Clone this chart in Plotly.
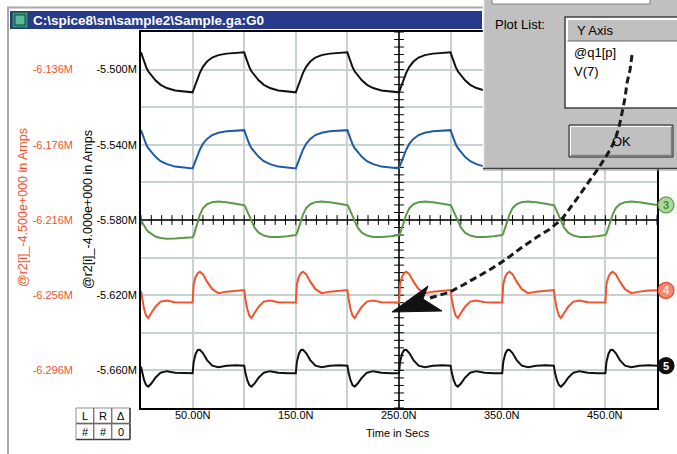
import plotly.graph_objects as go

W, H = 677, 454
FONT = "Liberation Sans, Arial, sans-serif"

# ---------------- data (in mA) ----------------
TIME_NS = [
    0, 1, 3, 5, 7, 10, 14, 19, 25, 33, 42,
    50, 51, 53, 55, 57, 60, 64, 69, 75, 83, 92,
    100, 101, 103, 105, 107, 110, 114, 119, 125, 133, 142,
    150, 151, 153, 155, 157, 160, 164, 169, 175, 183, 192,
    200, 201, 203, 205, 207, 210, 214, 219, 225, 233, 242,
    250, 251, 253, 255, 257, 260, 264, 269, 275, 283, 292,
    300, 301, 303, 305, 307, 310, 314, 319, 325, 333, 342,
    350, 351, 353, 355, 357, 360, 364, 369, 375, 383, 392,
    400, 401, 403, 405, 407, 410, 414, 419, 425, 433, 442,
    450, 451, 453, 455, 457, 460, 464, 469, 475, 483, 492,
    500]

TRACE_1 = [
    -5.4908, -5.4926, -5.4960, -5.4987, -5.5009, -5.5032, -5.5057, -5.5081, -5.5098, -5.5111, -5.5118,
    -5.5121, -5.5106, -5.5074, -5.5045, -5.5017, -5.4985, -5.4957, -5.4936, -5.4923, -5.4915, -5.4911,
    -5.4908, -5.4926, -5.4960, -5.4987, -5.5009, -5.5032, -5.5057, -5.5081, -5.5098, -5.5111, -5.5118,
    -5.5121, -5.5106, -5.5074, -5.5045, -5.5017, -5.4985, -5.4957, -5.4936, -5.4923, -5.4915, -5.4911,
    -5.4908, -5.4926, -5.4960, -5.4987, -5.5009, -5.5032, -5.5057, -5.5081, -5.5098, -5.5111, -5.5118,
    -5.5121, -5.5106, -5.5074, -5.5045, -5.5017, -5.4985, -5.4957, -5.4936, -5.4923, -5.4915, -5.4911,
    -5.4908, -5.4926, -5.4960, -5.4987, -5.5009, -5.5032, -5.5057, -5.5081, -5.5098, -5.5111, -5.5118,
    -5.5121, -5.5106, -5.5074, -5.5045, -5.5017, -5.4985, -5.4957, -5.4936, -5.4923, -5.4915, -5.4911,
    -5.4908, -5.4926, -5.4960, -5.4987, -5.5009, -5.5032, -5.5057, -5.5081, -5.5098, -5.5111, -5.5118,
    -5.5121, -5.5106, -5.5074, -5.5045, -5.5017, -5.4985, -5.4957, -5.4936, -5.4923, -5.4915, -5.4911,
    -5.4909]

TRACE_2 = [
    -5.5322, -5.5338, -5.5371, -5.5397, -5.5418, -5.5440, -5.5464, -5.5487, -5.5503, -5.5516, -5.5522,
    -5.5526, -5.5511, -5.5481, -5.5452, -5.5426, -5.5395, -5.5369, -5.5348, -5.5336, -5.5328, -5.5324,
    -5.5322, -5.5338, -5.5371, -5.5397, -5.5418, -5.5440, -5.5464, -5.5487, -5.5503, -5.5516, -5.5522,
    -5.5526, -5.5511, -5.5481, -5.5452, -5.5426, -5.5395, -5.5369, -5.5348, -5.5336, -5.5328, -5.5324,
    -5.5322, -5.5338, -5.5371, -5.5397, -5.5418, -5.5440, -5.5464, -5.5487, -5.5503, -5.5516, -5.5522,
    -5.5526, -5.5511, -5.5481, -5.5452, -5.5426, -5.5395, -5.5369, -5.5348, -5.5336, -5.5328, -5.5324,
    -5.5322, -5.5338, -5.5371, -5.5397, -5.5418, -5.5440, -5.5464, -5.5487, -5.5503, -5.5516, -5.5522,
    -5.5526, -5.5511, -5.5481, -5.5452, -5.5426, -5.5395, -5.5369, -5.5348, -5.5336, -5.5328, -5.5324,
    -5.5322, -5.5338, -5.5371, -5.5397, -5.5418, -5.5440, -5.5464, -5.5487, -5.5503, -5.5516, -5.5522,
    -5.5526, -5.5511, -5.5481, -5.5452, -5.5426, -5.5395, -5.5369, -5.5348, -5.5336, -5.5328, -5.5324,
    -5.5322]

TRACE_3 = [
    -5.5801, -5.5811, -5.5833, -5.5849, -5.5862, -5.5875, -5.5888, -5.5896, -5.5900, -5.5899, -5.5894,
    -5.5892, -5.5884, -5.5850, -5.5810, -5.5773, -5.5738, -5.5716, -5.5705, -5.5702, -5.5705, -5.5713,
    -5.5721, -5.5729, -5.5753, -5.5782, -5.5809, -5.5841, -5.5867, -5.5883, -5.5890, -5.5891, -5.5887,
    -5.5880, -5.5872, -5.5843, -5.5806, -5.5771, -5.5737, -5.5716, -5.5705, -5.5702, -5.5705, -5.5713,
    -5.5721, -5.5729, -5.5753, -5.5782, -5.5809, -5.5841, -5.5867, -5.5883, -5.5890, -5.5891, -5.5887,
    -5.5880, -5.5872, -5.5843, -5.5806, -5.5771, -5.5737, -5.5716, -5.5705, -5.5702, -5.5705, -5.5713,
    -5.5721, -5.5729, -5.5753, -5.5782, -5.5809, -5.5841, -5.5867, -5.5883, -5.5890, -5.5891, -5.5887,
    -5.5880, -5.5872, -5.5843, -5.5806, -5.5771, -5.5737, -5.5716, -5.5705, -5.5702, -5.5705, -5.5713,
    -5.5721, -5.5729, -5.5753, -5.5782, -5.5809, -5.5841, -5.5867, -5.5883, -5.5890, -5.5891, -5.5887,
    -5.5880, -5.5872, -5.5843, -5.5806, -5.5771, -5.5737, -5.5716, -5.5705, -5.5702, -5.5705, -5.5713,
    -5.5720]

TRACE_4 = [
    -5.6178, -5.6216, -5.6274, -5.6309, -5.6322, -5.6295, -5.6261, -5.6234, -5.6228, -5.6237, -5.6239,
    -5.6239, -5.6141, -5.6101, -5.6083, -5.6075, -5.6088, -5.6128, -5.6168, -5.6189, -5.6181, -5.6175,
    -5.6173, -5.6216, -5.6274, -5.6309, -5.6322, -5.6295, -5.6261, -5.6234, -5.6228, -5.6237, -5.6239,
    -5.6239, -5.6141, -5.6101, -5.6083, -5.6075, -5.6088, -5.6128, -5.6168, -5.6189, -5.6181, -5.6175,
    -5.6173, -5.6216, -5.6274, -5.6309, -5.6322, -5.6295, -5.6261, -5.6234, -5.6228, -5.6237, -5.6239,
    -5.6239, -5.6141, -5.6101, -5.6083, -5.6075, -5.6088, -5.6128, -5.6168, -5.6189, -5.6181, -5.6175,
    -5.6173, -5.6216, -5.6274, -5.6309, -5.6322, -5.6295, -5.6261, -5.6234, -5.6228, -5.6237, -5.6239,
    -5.6239, -5.6141, -5.6101, -5.6083, -5.6075, -5.6088, -5.6128, -5.6168, -5.6189, -5.6181, -5.6175,
    -5.6173, -5.6216, -5.6274, -5.6309, -5.6322, -5.6295, -5.6261, -5.6234, -5.6228, -5.6237, -5.6239,
    -5.6239, -5.6141, -5.6101, -5.6083, -5.6075, -5.6088, -5.6128, -5.6168, -5.6189, -5.6181, -5.6175,
    -5.6174]

TRACE_5 = [
    -5.6581, -5.6609, -5.6652, -5.6678, -5.6686, -5.6670, -5.6639, -5.6612, -5.6604, -5.6612, -5.6615,
    -5.6615, -5.6556, -5.6511, -5.6491, -5.6490, -5.6508, -5.6545, -5.6575, -5.6583, -5.6575, -5.6572,
    -5.6575, -5.6609, -5.6652, -5.6678, -5.6686, -5.6670, -5.6639, -5.6612, -5.6604, -5.6612, -5.6615,
    -5.6615, -5.6556, -5.6511, -5.6491, -5.6490, -5.6508, -5.6545, -5.6575, -5.6583, -5.6575, -5.6572,
    -5.6575, -5.6609, -5.6652, -5.6678, -5.6686, -5.6670, -5.6639, -5.6612, -5.6604, -5.6612, -5.6615,
    -5.6615, -5.6556, -5.6511, -5.6491, -5.6490, -5.6508, -5.6545, -5.6575, -5.6583, -5.6575, -5.6572,
    -5.6575, -5.6609, -5.6652, -5.6678, -5.6686, -5.6670, -5.6639, -5.6612, -5.6604, -5.6612, -5.6615,
    -5.6615, -5.6556, -5.6511, -5.6491, -5.6490, -5.6508, -5.6545, -5.6575, -5.6583, -5.6575, -5.6572,
    -5.6575, -5.6609, -5.6652, -5.6678, -5.6686, -5.6670, -5.6639, -5.6612, -5.6604, -5.6612, -5.6615,
    -5.6615, -5.6556, -5.6511, -5.6491, -5.6490, -5.6508, -5.6545, -5.6575, -5.6583, -5.6575, -5.6572,
    -5.6575]

X_RANGE = [0, 500]
Y_RANGE = [-5.68, -5.48]
X_GRID = [0, 50, 100, 150, 200, 250, 300, 350, 400, 450, 500]
X_LABEL_AT = [50, 150, 250, 350, 450]
X_LABEL_TEXT = ["50.00N", "150.0N", "250.0N", "350.0N", "450.0N"]
Y_GRID = [-5.68, -5.66, -5.64, -5.62, -5.60, -5.58, -5.56, -5.54, -5.52, -5.50, -5.48]
Y_TICK_TEXT = ["", "-5.660M", "", "-5.620M", "", "-5.580M", "", "-5.540M", "", "-5.500M", ""]
Y2_TICK_TEXT = ["", "-6.296M", "", "-6.256M", "", "-6.216M", "", "-6.176M", "", "-6.136M", ""]
CURSOR_X = 250
CURSOR_Y = -5.58
CURSOR_X_TICKS = list(range(0, 501, 10))
CURSOR_Y_TICKS = [round(-5.68 + 0.004 * k, 4) for k in range(51)]
TAG_LABELS = ["3", "4", "5"]

C_BLACK = "#111111"
C_BLUE = "#1f5aa8"
C_GREEN = "#5b9a48"
C_RED = "#f2522c"
GRID = "#c9d2d2"

fig = go.Figure()

# crosshair cursor lines and ticks
fig.add_trace(go.Scatter(x=[CURSOR_X, CURSOR_X], y=Y_RANGE, mode="lines",
                         line=dict(color="black", width=1.5), hoverinfo="skip"))
fig.add_trace(go.Scatter(x=X_RANGE, y=[CURSOR_Y, CURSOR_Y], mode="lines",
                         line=dict(color="black", width=1.5), hoverinfo="skip"))
fig.add_trace(go.Scatter(x=[CURSOR_X] * len(CURSOR_Y_TICKS), y=CURSOR_Y_TICKS, mode="markers",
                         marker=dict(symbol="line-ew-open", size=7, color="black", line=dict(width=1)),
                         hoverinfo="skip"))
fig.add_trace(go.Scatter(x=CURSOR_X_TICKS, y=[CURSOR_Y] * len(CURSOR_X_TICKS), mode="markers",
                         marker=dict(symbol="line-ns-open", size=7, color="black", line=dict(width=1)),
                         hoverinfo="skip"))

for ys, col in [(TRACE_1, C_BLACK), (TRACE_2, C_BLUE), (TRACE_3, C_GREEN),
                (TRACE_4, C_RED), (TRACE_5, C_BLACK)]:
    fig.add_trace(go.Scatter(x=TIME_NS, y=ys, mode="lines",
                             line=dict(color=col, width=2)))

# invisible trace for the red (left outer) axis
fig.add_trace(go.Scatter(x=[None], y=[None], yaxis="y2", showlegend=False))

shapes = []
ann = []


def X(x):
    return x / W


def Y(y):
    return 1 - y / H


def rect(x0, y0, x1, y1, fill, line=None, lw=0):
    shapes.append(dict(type="rect", xref="paper", yref="paper",
                       x0=X(x0), x1=X(x1), y0=Y(y1), y1=Y(y0),
                       fillcolor=fill, line=dict(color=line or fill, width=lw), layer="above"))


def seg(x0, y0, x1, y1, color, lw=1):
    shapes.append(dict(type="line", xref="paper", yref="paper",
                       x0=X(x0), x1=X(x1), y0=Y(y0), y1=Y(y1),
                       line=dict(color=color, width=lw), layer="above"))


def path(pts, close=False):
    s = "M " + " L ".join(f"{X(x):.5f},{Y(y):.5f}" for x, y in pts)
    return s + (" Z" if close else "")


def text(s, x, y, size=11, color="black", xanchor="left", angle=0, bold=False):
    ann.append(dict(text=(f"<b>{s}</b>" if bold else s), x=X(x), y=Y(y), xref="paper", yref="paper",
                    xanchor=xanchor, yanchor="middle", showarrow=False, textangle=angle,
                    font=dict(family=FONT, size=size, color=color)))


# x tick labels (only every other gridline is labelled), placed on the data axis
for tv, tt in zip(X_LABEL_AT, X_LABEL_TEXT):
    ann.append(dict(text=tt, x=tv, y=Y(415), xref="x", yref="paper", showarrow=False,
                    xanchor="center", yanchor="middle", font=dict(family=FONT, size=11, color="black")))

# trace number tags at the right end of traces 3, 4, 5 (placed at each trace's last value)
tag_style = [(TRACE_3[-1], "#a9d89c", "#5b9a48", "#4a8a3a"),
             (TRACE_4[-1], "#f08a74", "#e04a2a", "#fde6de"),
             (TRACE_5[-1], "#111111", "#111111", "white")]
for lab, (yv, fill, edge, tcol) in zip(TAG_LABELS, tag_style):
    shapes.append(dict(type="circle", xref="paper", yref="y", xsizemode="pixel", ysizemode="pixel",
                       xanchor=X(666), yanchor=yv, x0=-8, x1=8, y0=-8, y1=8,
                       fillcolor=fill, line=dict(color=edge, width=1.2), layer="above"))
    ann.append(dict(text=f"<b>{lab}</b>", x=X(666), y=yv, xref="paper", yref="y", showarrow=False,
                    xanchor="center", yanchor="middle",
                    font=dict(family=FONT, size=11, color=tcol)))

# window frame + title bar
seg(7, 7.5, 483, 7.5, "#a8a8a8", 2)
seg(8, 7, 8, 454, "#a8a8a8", 2)
rect(10, 11, 482, 29, "#283a8c")
rect(12, 12, 28, 28, "#2f8c80", "#1a4a44", 1)
rect(15, 15, 25, 25, "#5bb8a0", "#1a4a44", 1)

# bottom-left buttons
btns = [("L", 76, 408), ("R", 94, 408), ("Δ", 112, 408),
        ("#", 76, 424), ("#", 94, 424), ("0", 112, 424)]
for _, bx, by in btns:
    rect(bx, by, bx + 18, by + 15.5, "white", "#909090", 1)
    seg(bx + 18, by, bx + 18, by + 15.5, "#404040", 1.5)
    seg(bx, by + 15.5, bx + 18, by + 15.5, "#404040", 1.5)

# dialog
rect(483, 0, 677, 168, "#c0c0c0")
seg(483.5, 0, 483.5, 168, "#f4f4f4", 1.5)
seg(483, 168.5, 677, 168.5, "#404040", 1.5)
seg(483, 170, 677, 170, "#9a9a9a", 1)
rect(492, -2, 650, 4, "white", "#808080", 1)
rect(565, 17, 680, 108, "white", "#404040", 1.5)
rect(567.5, 19.5, 680, 41, "#c0c0c0")
seg(567.5, 19.5, 677, 19.5, "white", 1)
seg(567.5, 19.5, 567.5, 41, "white", 1)
seg(567.5, 41, 677, 41, "#606060", 1)
rect(569, 125, 673, 157, "#c0c0c0", "#202020", 1)
seg(570.5, 126.5, 671.5, 126.5, "white", 1)
seg(570.5, 126.5, 570.5, 155.5, "white", 1)
seg(571, 155.5, 672, 155.5, "#808080", 1.5)
seg(671.5, 126.5, 671.5, 155.5, "#808080", 1.5)

# dashed arrow
curve = [(632, 55), (630, 70), (627, 83), (625, 98), (622, 113), (619, 127), (615, 140),
         (610, 150), (605, 158), (598, 169), (590, 180), (576, 200), (562, 219), (550, 229),
         (537, 237), (521, 248), (505, 260), (491, 269), (477, 277), (463, 285), (450, 292),
         (440, 295), (430, 298)]
shapes.append(dict(type="path", xref="paper", yref="paper", path=path(curve),
                   line=dict(color="#1a1a1a", width=3, dash="7px,4px"), layer="above"))
shapes.append(dict(type="path", xref="paper", yref="paper",
                   path=path([(392, 312), (428, 286), (423, 299), (442, 311)], close=True),
                   fillcolor="#111111", line=dict(color="#111111", width=1), layer="above"))

text(r"C:\spice8\sn\sample2\Sample.ga:G0", 31, 20, size=13.5, color="white", bold=True)
text("@r2[i]_-4.500e+000 in Amps", 23, 208, size=12.5, color=C_RED, xanchor="center", angle=-90)
text("@r2[i]_-4.000e+000 in Amps", 88, 209, size=12.5, color="black", xanchor="center", angle=-90)
text("Time in Secs", 398, 433, xanchor="center")
for lab, bx, by in btns:
    text(lab, bx + 9, by + 8, size=11, xanchor="center")
text("Plot List:", 493, 25, size=13)
text("Y Axis", 575, 30.5, size=13)
text("@q1[p]", 572, 52, size=13)
text("V(7)", 572, 71, size=13)
text("OK", 621, 141.5, size=13, xanchor="center")

axis_common = dict(showline=True, linecolor="black", linewidth=2, mirror=True,
                   showgrid=True, gridcolor=GRID, gridwidth=1.5, zeroline=False, ticks="",
                   tickfont=dict(family=FONT, size=11, color="black"), tickmode="array")

fig.update_layout(
    width=W, height=H, margin=dict(l=0, r=0, t=0, b=0),
    paper_bgcolor="white", plot_bgcolor="white", showlegend=False,
    xaxis=dict(domain=[141 / W, 657 / W], range=X_RANGE, tickvals=X_GRID, showticklabels=False,
               **axis_common),
    yaxis=dict(domain=[1 - 408 / H, 1 - 32 / H], range=Y_RANGE, tickvals=Y_GRID, ticktext=Y_TICK_TEXT,
               **axis_common),
    yaxis2=dict(overlaying="y", anchor="free", position=73 / W, side="left", range=Y_RANGE,
                tickmode="array", tickvals=Y_GRID, ticktext=Y2_TICK_TEXT, showgrid=False,
                showline=False, zeroline=False, ticks="",
                tickfont=dict(family=FONT, size=11, color=C_RED)),
    shapes=shapes, annotations=ann,
)

fig.write_html("out.html", config={"displayModeBar": False},
               post_script="document.body.style.margin='0px';")
